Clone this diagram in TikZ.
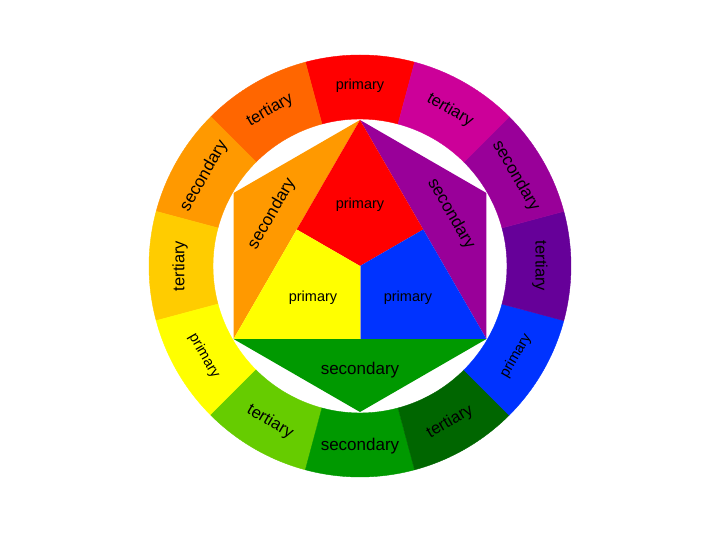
\documentclass[tikz,border=0pt]{standalone}
\usepackage{fontspec}
\setmainfont{Liberation Sans}
\usetikzlibrary{calc}

\definecolor{cred}{HTML}{FF0000}
\definecolor{credorange}{HTML}{FF6600}
\definecolor{corange}{HTML}{FF9900}
\definecolor{cyelloworange}{HTML}{FFCC00}
\definecolor{cyellow}{HTML}{FFFF00}
\definecolor{cyellowgreen}{HTML}{66CC00}
\definecolor{cgreen}{HTML}{009900}
\definecolor{cbluegreen}{HTML}{006600}
\definecolor{cblue}{HTML}{0033FF}
\definecolor{cblueviolet}{HTML}{660099}
\definecolor{cpurple}{HTML}{990099}
\definecolor{credviolet}{HTML}{CC0099}

\newcommand{\wprim}{\fontsize{14.5}{15}\selectfont primary}
\newcommand{\wsec}{\fontsize{17}{17}\selectfont secondary}
\newcommand{\wter}{\fontsize{16.5}{17}\selectfont tertiary}

\begin{document}
\begin{tikzpicture}[x=1pt, y=1pt,
  lbl/.style = {text=black, inner sep=0pt}]
  \useasboundingbox (-360,-274) rectangle (360,266);
  % outer ring, twelve parts
  \foreach \a/\col/\txt/\rot in {90/cred/\wprim/0, 120/credorange/\wter/30,
      150/corange/\wsec/60, 180/cyelloworange/\wter/90, 210/cyellow/\wprim/-60,
      240/cyellowgreen/\wter/-30, 270/cgreen/\wsec/0, 300/cbluegreen/\wter/30,
      330/cblue/\wprim/60, 360/cblueviolet/\wter/-90, 390/cpurple/\wsec/-60,
      420/credviolet/\wter/-30} {
    \filldraw[fill=\col, draw=\col, line width=0.4pt] ({\a-15}:147)
      arc[start angle=\a-15, end angle=\a+15, radius=147] -- ({\a+15}:211)
      arc[start angle=\a+15, end angle=\a-15, radius=211] -- cycle;
    \node[lbl, rotate=\rot] (ring\a) at (\a:180) {\txt};
  }
  % hexagon corners
  \coordinate (T) at (90:146);
  \coordinate (UL) at (150:146);
  \coordinate (LL) at (210:146);
  \coordinate (B) at (270:146);
  \coordinate (LR) at (330:146);
  \coordinate (UR) at (30:146);
  \coordinate (O) at (0,0);
  \coordinate (ML) at ($(T)!0.5!(LL)$);
  \coordinate (MR) at ($(T)!0.5!(LR)$);
  \coordinate (MB) at ($(LL)!0.5!(LR)$);
  % secondary triangles
  \fill[corange] (T) -- (UL) -- (LL) -- cycle;
  \fill[cpurple] (T) -- (UR) -- (LR) -- cycle;
  \fill[cgreen] (LL) -- (B) -- (LR) -- cycle;
  % primary triangle
  \fill[cred] (T) -- (ML) -- (O) -- (MR) -- cycle;
  \fill[cyellow] (LL) -- (MB) -- (O) -- (ML) -- cycle;
  \fill[cblue] (LR) -- (MR) -- (O) -- (MB) -- cycle;
  \draw[gray!70, line width=0.6pt] (O) -- (MB);
  % inner labels
  \node[lbl] (pred) at (0,61) {\wprim};
  \node[lbl] (pyellow) at (-47,-32) {\wprim};
  \node[lbl] (pblue) at (48,-32) {\wprim};
  \node[lbl] (sgreen) at (0,-104) {\wsec};
  \node[lbl, rotate=60] (sorange) at (-88,52) {\wsec};
  \node[lbl, rotate=-60] (spurple) at (91,52) {\wsec};
\end{tikzpicture}
\end{document}
